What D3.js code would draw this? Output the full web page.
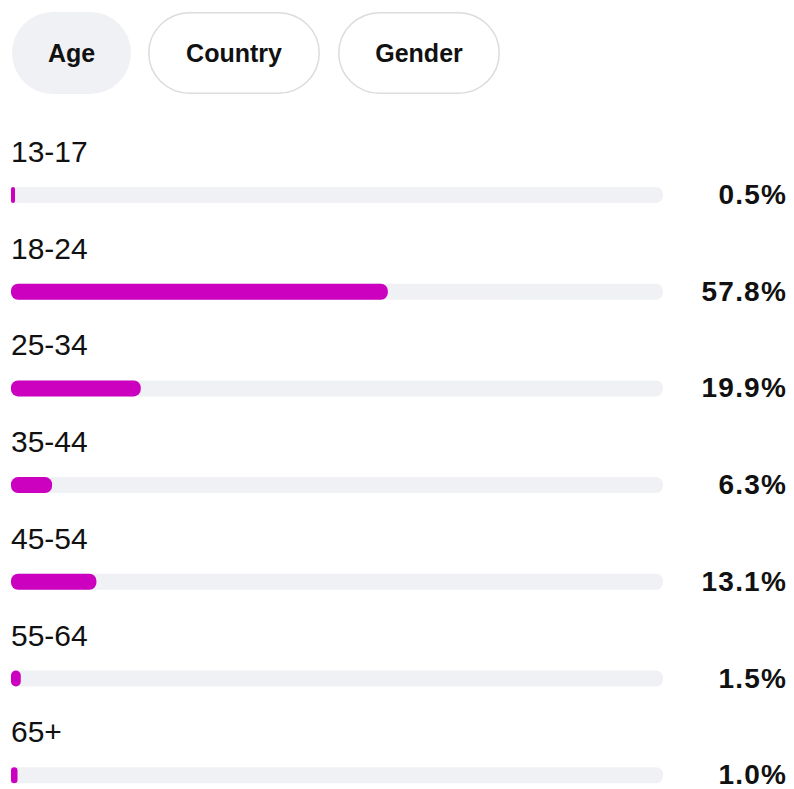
<!DOCTYPE html>
<html>
<head>
<meta charset="utf-8">
<script src="https://cdn.jsdelivr.net/npm/d3@7"></script>
<style>
  body { margin: 0; background: #fff; }
  svg { display: block; font-family: "Liberation Sans", Arial, sans-serif; }
</style>
</head>
<body>
<div id="chart"></div>
<script>
(function() {
const width = 794,
      height = 789

// data
const tabs = ['Age', 'Country', 'Gender']
const activeTab = 'Age'
const ageGroups = ['13-17', '18-24', '25-34', '35-44', '45-54', '55-64', '65+']
const shares = [0.5, 57.8, 19.9, 6.3, 13.1, 1.5, 1.0]

const svg = d3.select('#chart')
  .append('svg')
  .attr('width', width)
  .attr('height', height)

// tab pills
const tabX = [12, 148, 338],
      tabW = [119, 172, 162]
const tab = svg.selectAll('.tab')
  .data(tabs)
  .enter().append('g')
  .attr('class', 'tab')
  .attr('transform', (d, i) => 'translate(' + tabX[i] + ',12)')

tab.append('rect')
  .attr('x', d => d === activeTab ? 0 : 0.75)
  .attr('y', d => d === activeTab ? 0 : 0.75)
  .attr('width', (d, i) => d === activeTab ? tabW[i] : tabW[i] - 1.5)
  .attr('height', d => d === activeTab ? 82 : 80.5)
  .attr('rx', 41)
  .style('fill', d => d === activeTab ? '#f0f1f4' : '#fff')
  .style('stroke', d => d === activeTab ? 'none' : '#dcdcdc')
  .style('stroke-width', 1.5)

tab.append('text')
  .attr('x', (d, i) => tabW[i] / 2)
  .attr('y', 50)
  .attr('text-anchor', 'middle')
  .style('font-size', '25px')
  .style('font-weight', 700)
  .style('fill', '#111')
  .text(d => d)

// bars
const x = d3.scaleLinear()
  .domain([0, 100])
  .range([11, 663])

const y = d3.scaleBand()
  .domain(ageGroups)
  .range([130, 130 + 96.7 * ageGroups.length])

const rows = svg.selectAll('.row')
  .data(ageGroups.map((g, i) => ({ group: g, value: shares[i] })))
  .enter().append('g')
  .attr('class', 'row')
  .attr('transform', d => 'translate(0,' + y(d.group) + ')')

rows.append('text')
  .attr('x', 11)
  .attr('y', 32)
  .style('font-size', '30px')
  .style('fill', '#111')
  .text(d => d.group)

rows.append('rect')
  .attr('x', x(0))
  .attr('y', 57)
  .attr('width', x(100) - x(0))
  .attr('height', 16)
  .attr('rx', 7)
  .style('fill', '#f0f1f4')

rows.append('rect')
  .attr('x', x(0))
  .attr('y', 57)
  .attr('width', d => Math.max(x(d.value) - x(0), 4))
  .attr('height', 16)
  .attr('rx', d => Math.min(7, Math.max(x(d.value) - x(0), 4) / 2))
  .style('fill', '#cc00bf')

rows.append('text')
  .attr('x', 787)
  .attr('y', 74)
  .attr('text-anchor', 'end')
  .style('font-size', '28px')
  .style('font-weight', 700)
  .style('letter-spacing', '1.2px')
  .style('fill', '#111')
  .text(d => d.value.toFixed(1) + '%')
})()
</script>
</body>
</html>
